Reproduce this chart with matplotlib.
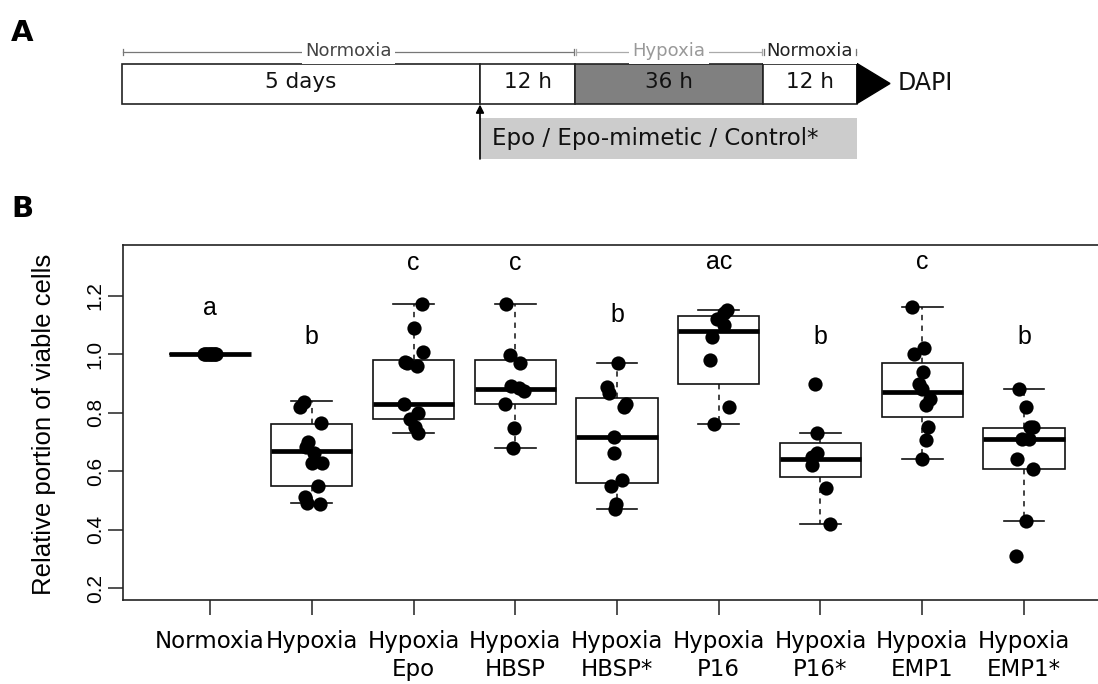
import matplotlib.pyplot as plt
from matplotlib.patches import Rectangle, Polygon


# ---- data (panel B) ----
groups = ["Normoxia", "Hypoxia", "Hypoxia\nEpo", "Hypoxia\nHBSP", "Hypoxia\nHBSP*",
          "Hypoxia\nP16", "Hypoxia\nP16*", "Hypoxia\nEMP1", "Hypoxia\nEMP1*"]
sig_letters = ["a", "b", "c", "c", "b", "ac", "b", "c", "b"]

# box statistics
box_med = [1.00, 0.671, 0.830, 0.880, 0.719, 1.081, 0.641, 0.870, 0.710]
box_q1 = [1.00, 0.550, 0.780, 0.830, 0.559, 0.899, 0.580, 0.785, 0.609]
box_q3 = [1.00, 0.761, 0.981, 0.981, 0.850, 1.131, 0.696, 0.969, 0.749]
whisk_lo = [1.00, 0.491, 0.730, 0.679, 0.470, 0.762, 0.420, 0.641, 0.430]
whisk_hi = [1.00, 0.839, 1.171, 1.171, 0.971, 1.151, 0.730, 1.163, 0.880]

normoxia_vals = [1.00, 1.00, 1.00, 1.00, 1.00, 1.00, 1.00, 1.00, 1.00, 1.00]
normoxia_jit = [-0.06, -0.045, -0.03, -0.015, 0.0, 0.01, 0.02, 0.035, 0.05, 0.06]
hypoxia_vals = [0.838, 0.819, 0.766, 0.701, 0.682, 0.662, 0.630, 0.630, 0.550, 0.511, 0.491, 0.489]
hypoxia_jit = [-0.075, -0.115, 0.088, -0.033, -0.056, 0.023, 0.0, 0.098, 0.065, -0.065, -0.049, 0.082]
epo_vals = [1.171, 1.089, 1.009, 0.975, 0.970, 0.960, 0.830, 0.800, 0.778, 0.751, 0.730]
epo_jit = [0.082, 0.0, 0.098, -0.082, -0.06, 0.033, -0.092, 0.049, -0.039, 0.016, 0.049]
hbsp_vals = [1.171, 0.998, 0.971, 0.892, 0.884, 0.873, 0.830, 0.749, 0.679]
hbsp_jit = [-0.092, -0.049, 0.043, -0.039, 0.033, 0.088, -0.098, -0.010, -0.026]
hbsp_ctrl_vals = [0.971, 0.889, 0.869, 0.829, 0.819, 0.719, 0.662, 0.571, 0.550, 0.489, 0.470]
hbsp_ctrl_jit = [0.007, -0.098, -0.082, 0.092, 0.072, -0.033, -0.026, 0.049, -0.059, -0.007, -0.016]
p16_vals = [1.151, 1.142, 1.120, 1.100, 1.058, 0.981, 0.821, 0.762]
p16_jit = [0.082, 0.049, -0.016, 0.049, -0.065, -0.082, 0.098, -0.049]
p16_ctrl_vals = [0.899, 0.730, 0.662, 0.648, 0.622, 0.542, 0.420]
p16_ctrl_jit = [-0.056, -0.033, -0.039, -0.079, -0.088, 0.052, 0.092]
emp1_vals = [1.163, 1.020, 1.000, 0.941, 0.899, 0.880, 0.846, 0.827, 0.751, 0.707, 0.641]
emp1_jit = [-0.098, 0.020, -0.082, 0.010, -0.029, 0.0, 0.075, 0.036, 0.059, 0.033, 0.0]
emp1_ctrl_vals = [0.880, 0.821, 0.753, 0.750, 0.710, 0.710, 0.641, 0.609, 0.430, 0.311]
emp1_ctrl_jit = [-0.049, 0.020, 0.059, 0.092, -0.023, 0.052, -0.072, 0.085, 0.016, -0.079]

all_vals = [normoxia_vals, hypoxia_vals, epo_vals, hbsp_vals, hbsp_ctrl_vals,
            p16_vals, p16_ctrl_vals, emp1_vals, emp1_ctrl_vals]
all_jit = [normoxia_jit, hypoxia_jit, epo_jit, hbsp_jit, hbsp_ctrl_jit,
           p16_jit, p16_ctrl_jit, emp1_jit, emp1_ctrl_jit]

# ---- panel A timeline ----
stage_labels = ["5 days", "12 h", "36 h", "12 h"]
stage_colors = ["white", "white", "#808080", "white"]
stage_edges = [122, 480, 575, 763, 857]
phase_labels = ["Normoxia", "Hypoxia", "Normoxia"]
phase_colors = ["#444444", "#999999", "#222222"]
phase_line_colors = ["#777777", "#aaaaaa", "#777777"]
phase_edges = [122, 575, 763, 857]
treatment_label = "Epo / Epo-mimetic / Control*"

W, H = 1098, 684
fig = plt.figure(figsize=(W / 100, H / 100), dpi=100)

axA = fig.add_axes([0, 0, 1, 1])
axA.set_xlim(0, W)
axA.set_ylim(H, 0)
axA.axis("off")

fig.text(11 / W, 1 - 33 / H, "A", fontsize=21, fontweight="heavy", va="center", ha="left")
fig.text(11 / W, 1 - 209 / H, "B", fontsize=21, fontweight="heavy", va="center", ha="left")

box_top, box_bot = 63.5, 103.5
for i, lab in enumerate(stage_labels):
    x0, x1 = stage_edges[i], stage_edges[i + 1]
    axA.add_patch(Rectangle((x0, box_top), x1 - x0, box_bot - box_top,
                            facecolor=stage_colors[i], edgecolor="#222222", linewidth=1.2))
    axA.text((x0 + x1) / 2, 82, lab, fontsize=15.5, ha="center", va="center", color="#111111")

# DAPI arrow head
xe = stage_edges[-1]
axA.add_patch(Polygon([(xe, box_top), (xe + 33, (box_top + box_bot) / 2), (xe, box_bot)],
                      closed=True, facecolor="black", edgecolor="black"))
axA.text(xe + 41, 83, "DAPI", fontsize=17, ha="left", va="center", color="#111111")

# phase brackets above the boxes
yb = 51.5
for i, lab in enumerate(phase_labels):
    x0, x1 = phase_edges[i], phase_edges[i + 1]
    axA.plot([x0 + 1, x1 - 1], [yb, yb], color=phase_line_colors[i], linewidth=0.9, zorder=1)
    axA.text((x0 + x1) / 2, yb, lab, fontsize=13, ha="center", va="center",
             color=phase_colors[i], zorder=2,
             bbox=dict(facecolor="white", edgecolor="none", pad=2.5))
    axA.plot([x0 + 1, x0 + 1], [yb - 3, yb + 3], color=phase_line_colors[i], linewidth=0.9, zorder=3)
    axA.plot([x1 - 1, x1 - 1], [yb - 3, yb + 3], color=phase_line_colors[i], linewidth=0.9, zorder=3)

# treatment bar and arrow
tx = stage_edges[1]
axA.add_patch(Rectangle((tx, 118), stage_edges[-1] - tx, 41, facecolor="#cccccc", edgecolor="none"))
axA.annotate("", xy=(tx, box_bot + 1), xytext=(tx, 159),
             arrowprops=dict(arrowstyle="-|>", color="black", linewidth=1.2,
                             mutation_scale=12, shrinkA=0, shrinkB=0))
axA.text(tx + 12, 138.5, treatment_label, fontsize=16.5, ha="left", va="center", color="#111111")

# ---- panel B boxplot ----
axB = fig.add_axes([122.5 / W, (H - 600) / H, 989 / W, 355 / H])
positions = list(range(1, len(groups) + 1))

stats = []
for i in range(len(groups)):
    stats.append(dict(med=box_med[i], q1=box_q1[i], q3=box_q3[i],
                      whislo=whisk_lo[i], whishi=whisk_hi[i], label=groups[i]))

axB.bxp(stats, positions=positions, widths=0.8, capwidths=0.4, showfliers=False,
        patch_artist=True,
        boxprops=dict(facecolor="white", edgecolor="#111111", linewidth=1.2),
        medianprops=dict(color="black", linewidth=3.4, solid_capstyle="butt"),
        whiskerprops=dict(color="#111111", linewidth=1.1, linestyle=(0, (3.5, 3.5))),
        capprops=dict(color="#111111", linewidth=1.2))

for p, vals, jit in zip(positions, all_vals, all_jit):
    axB.scatter([p + j for j in jit], vals, s=105, color="black", linewidths=0, zorder=4)

letter_y = [1.157, 1.060, 1.313, 1.313, 1.134, 1.316, 1.060, 1.316, 1.060]
for p, lab, y in zip(positions, sig_letters, letter_y):
    axB.text(p, y, lab, fontsize=18, family="Liberation Sans", ha="center", va="center")

axB.set_xlim(0.14, 9.86)
axB.set_ylim(0.1606, 1.3734)

yt = [0.2, 0.4, 0.6, 0.8, 1.0, 1.2]
axB.set_yticks(yt)
axB.set_yticklabels([f"{v:.1f}" for v in yt], rotation=90, va="center",
                    family="Liberation Sans", fontsize=15)
axB.set_xticks(positions)
axB.set_xticklabels(groups, fontsize=16.5, linespacing=1.25)
axB.tick_params(axis="y", length=10.8, width=1.1, pad=2, color="#222222")
axB.tick_params(axis="x", length=10.8, width=1.1, pad=11, color="#222222")
for sp in axB.spines.values():
    sp.set_linewidth(1.2)
    sp.set_color("#222222")

fig.text(44 / W, 1 - 424 / H, "Relative portion of viable cells", rotation=90,
         family="Liberation Sans", fontsize=18.5, ha="center", va="center")

fig.savefig("out.png", dpi=100)
